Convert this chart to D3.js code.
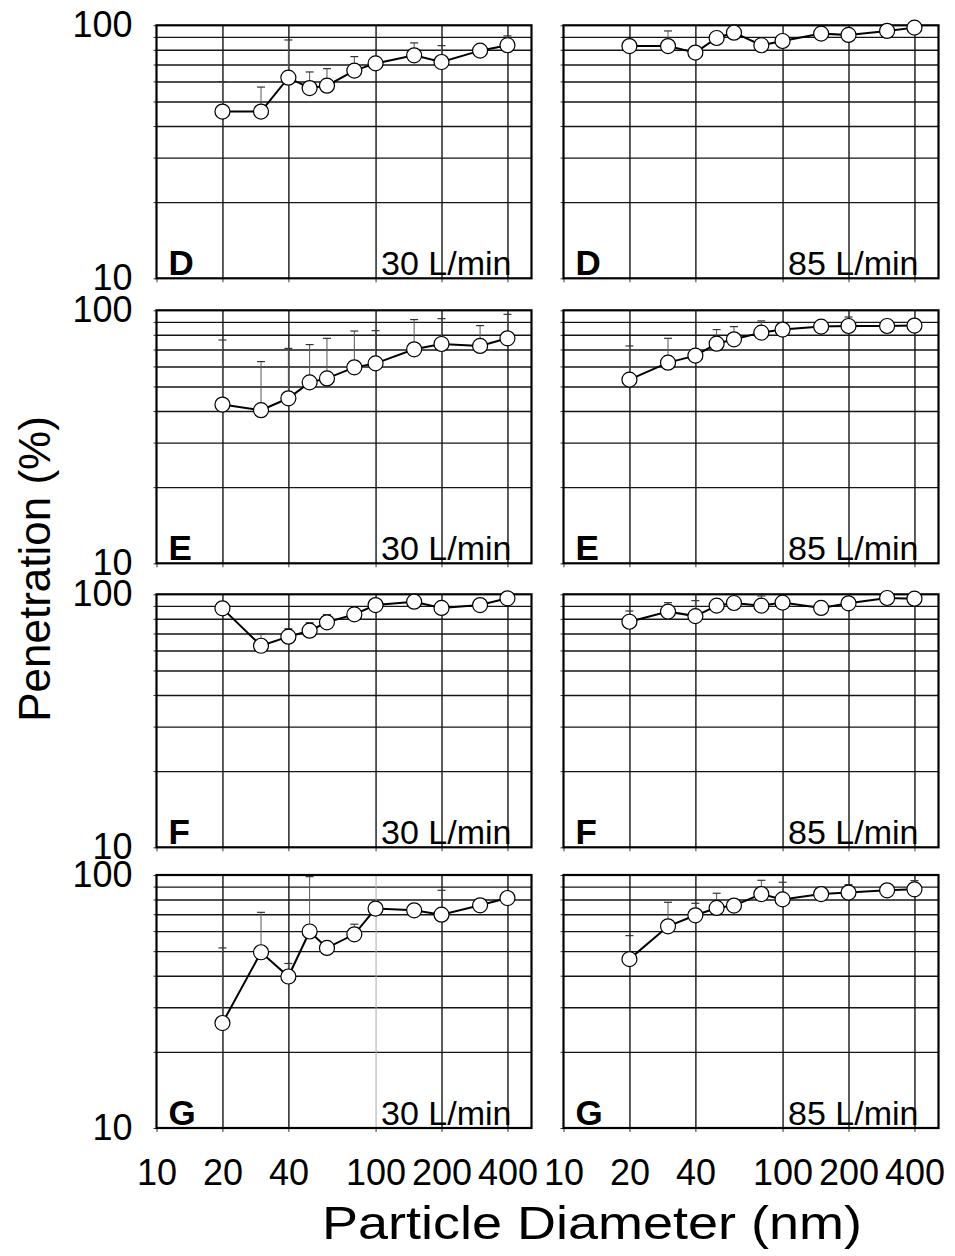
<!DOCTYPE html>
<html>
<head>
<meta charset="utf-8">
<script src="https://cdn.jsdelivr.net/npm/d3@7"></script>
<style>
  html, body { margin: 0; padding: 0; background: #fff; }
  svg { display: block; font-family: "Liberation Sans", Arial, Helvetica, sans-serif; }
</style>
</head>
<body>
<svg id="chart" width="955" height="1256"></svg>
<script>
// ---------- data ----------
const diameters = [20, 30, 40, 50, 60, 80, 100, 150, 200, 300, 400];
const xTickLabels = [10, 20, 40, 100, 200, 400];
const xGridValues = [20, 40, 100, 200, 400];
const yTickLabels = [10, 100];
const yGridValues = [20, 30, 40, 50, 60, 70, 80, 90];
const panelLetters = ["D", "E", "F", "G"];
const flowLabels = ["30 L/min", "85 L/min"];

// penetration (%) and top of upper error bar (null = no visible bar)
const penD30 = [45.6, 45.6, 62.1, 56.5, 57.7, 66.2, 70.7, 76.1, 71.6, 79.4, 83.4];
const errD30 = [59.9, 57.0, 87.5, 65.4, 67.4, 75.2, null, 85.2, 83.1, null, 90.8];
const penD85 = [82.8, 82.8, 78.0, 89.1, 93.5, 83.4, 86.7, 92.7, 91.6, 95.0, 97.9];
const errD85 = [null, 95.0, null, null, null, null, null, null, null, null, null];

const penE30 = [42.4, 40.3, 44.9, 51.9, 53.8, 59.5, 61.7, 70.1, 73.6, 72.3, 77.5];
const errE30 = [76.3, 62.7, 70.7, 73.2, 77.5, 82.8, 83.1, 91.9, 92.7, 87.0, 96.4];
const penE85 = [53.2, 62.1, 66.2, 73.8, 76.8, 81.6, 83.9, 86.2, 86.7, 86.7, 87.0];
const errE85 = [72.3, 77.5, null, 83.9, 86.2, 90.8, null, null, 94.1, null, null];

const penF30 = [88.0, 62.6, 68.0, 71.8, 77.5, 83.3, 90.7, 93.5, 88.3, 90.7, 96.4];
const errF30 = [null, 69.6, 73.1, 77.2, 83.1, null, null, null, null, null, null];
const penF85 = [77.9, 85.4, 82.0, 90.2, 92.4, 90.2, 92.7, 88.3, 92.1, 96.7, 96.1];
const errF85 = [85.9, 92.7, 94.4, null, null, 98.5, null, null, null, null, null];

const penG30 = [26.0, 49.5, 39.7, 59.8, 51.5, 58.3, 73.7, 72.5, 69.7, 75.9, 81.1];
const errG30 = [51.5, 71.2, 44.7, 98.5, null, 63.9, null, null, 87.0, null, null];
const penG85 = [46.5, 62.7, 69.3, 74.1, 75.7, 84.1, 80.1, 84.1, 85.2, 87.0, 87.8];
const errG85 = [57.6, 78.0, 77.3, 84.7, null, 95.3, 93.6, null, 91.6, null, 95.0];

// ---------- layout ----------
const colLefts = [156.5, 563.5];
const rowTops = [25.3, 310.3, 594.3, 875];
const W = 375, H = 253;
const xDomain = [10, 515];
const yDomain = [10, 100];

const panelSeries = [
  [[penD30, errD30], [penD85, errD85]],
  [[penE30, errE30], [penE85, errE85]],
  [[penF30, errF30], [penF85, errF85]],
  [[penG30, errG30], [penG85, errG85]]
];

const svg = d3.select("#chart");
const x = d3.scaleLog().domain(xDomain).range([0, W]);
const y = d3.scaleLog().domain(yDomain).range([H, 0]);

panelSeries.forEach((rowSeries, r) => {
  rowSeries.forEach(([vals, errs], c) => {
    const g = svg.append("g").attr("transform", `translate(${colLefts[c]},${rowTops[r]})`);

    // horizontal grid
    g.append("g").call(d3.axisLeft(y).tickValues(yGridValues).tickSize(-W).tickFormat(""))
      .call(s => s.select(".domain").remove())
      .selectAll("line").attr("stroke", "#151515").attr("stroke-width", 1.4);
    // left outer ticks
    g.append("g").call(d3.axisLeft(y).tickValues(yGridValues.concat([10, 100])).tickSize(3).tickFormat(""))
      .call(s => s.select(".domain").remove())
      .selectAll("line").attr("stroke", "#333").attr("stroke-width", 1);
    // vertical grid
    const faint = (r === 3 && c === 0) ? 100 : null;
    g.append("g").attr("transform", `translate(0,${H})`)
      .call(d3.axisBottom(x).tickValues(xGridValues).tickSize(-H).tickFormat(""))
      .call(s => s.select(".domain").remove())
      .selectAll("line")
      .attr("stroke", d => d === faint ? "#aaa" : "#151515")
      .attr("stroke-width", d => d === faint ? 1 : 1.4);
    // bottom outer ticks
    g.append("g").attr("transform", `translate(0,${H})`)
      .call(d3.axisBottom(x).tickValues(xTickLabels).tickSize(4).tickFormat(""))
      .call(s => s.select(".domain").remove())
      .selectAll("line").attr("stroke", "#333").attr("stroke-width", 1);

    // frame
    g.append("rect").attr("x", 0).attr("y", 0).attr("width", W).attr("height", H)
      .attr("fill", "none").attr("stroke", "#000").attr("stroke-width", 2.2);

    // y tick labels (left column only)
    if (c === 0) {
      g.append("g").call(d3.axisLeft(y).tickValues(yTickLabels).tickSize(0).tickPadding(24)
          .tickFormat(d3.format("d")))
        .call(s => s.select(".domain").remove())
        .selectAll("text").attr("font-size", 36).attr("fill", "#000")
        .attr("font-family", "'Liberation Sans', Arial, sans-serif");
    }
    // x tick labels (bottom row only)
    if (r === 3) {
      g.append("g").attr("transform", `translate(0,${H})`)
        .call(d3.axisBottom(x).tickValues(xTickLabels).tickSize(0).tickPadding(31)
          .tickFormat(d3.format("d")))
        .call(s => s.select(".domain").remove())
        .selectAll("text").attr("font-size", 36).attr("fill", "#000")
        .attr("font-family", "'Liberation Sans', Arial, sans-serif");
    }

    const pts = diameters.map((d, i) => ({ d, v: vals[i], e: errs[i] }));

    // error bars
    const eb = g.append("g");
    pts.filter(p => p.e != null).forEach(p => {
      eb.append("line").attr("x1", x(p.d)).attr("x2", x(p.d))
        .attr("y1", y(p.v)).attr("y2", y(p.e)).attr("stroke", "#555").attr("stroke-width", 1);
      eb.append("line").attr("x1", x(p.d) - 4).attr("x2", x(p.d) + 4)
        .attr("y1", y(p.e)).attr("y2", y(p.e)).attr("stroke", "#333").attr("stroke-width", 1.2);
    });

    // line
    g.append("path").datum(pts)
      .attr("d", d3.line().x(p => x(p.d)).y(p => y(p.v)))
      .attr("fill", "none").attr("stroke", "#000").attr("stroke-width", 2);

    // markers
    g.selectAll("circle.pt").data(pts).enter().append("circle")
      .attr("class", "pt")
      .attr("cx", p => x(p.d)).attr("cy", p => y(p.v)).attr("r", 7.5)
      .attr("fill", "#fff").attr("stroke", "#000").attr("stroke-width", 1.2);

    // panel labels
    g.append("text").attr("x", 12).attr("y", H - 3)
      .attr("font-size", 35).attr("font-weight", "bold").attr("fill", "#000")
      .text(panelLetters[r]);
    g.append("text").attr("x", W - 20).attr("y", H - 3)
      .attr("text-anchor", "end").attr("font-size", 34).attr("fill", "#000")
      .text(flowLabels[c]);
  });
});

// axis titles
svg.append("text")
  .attr("transform", "translate(50,569) rotate(-90)")
  .attr("text-anchor", "middle").attr("font-size", 44).attr("fill", "#000")
  .text("Penetration (%)");

svg.append("text")
  .attr("x", 322).attr("y", 1239)
  .attr("font-size", 46).attr("fill", "#000")
  .attr("textLength", 540).attr("lengthAdjust", "spacingAndGlyphs")
  .text("Particle Diameter (nm)");
</script>
</body>
</html>
